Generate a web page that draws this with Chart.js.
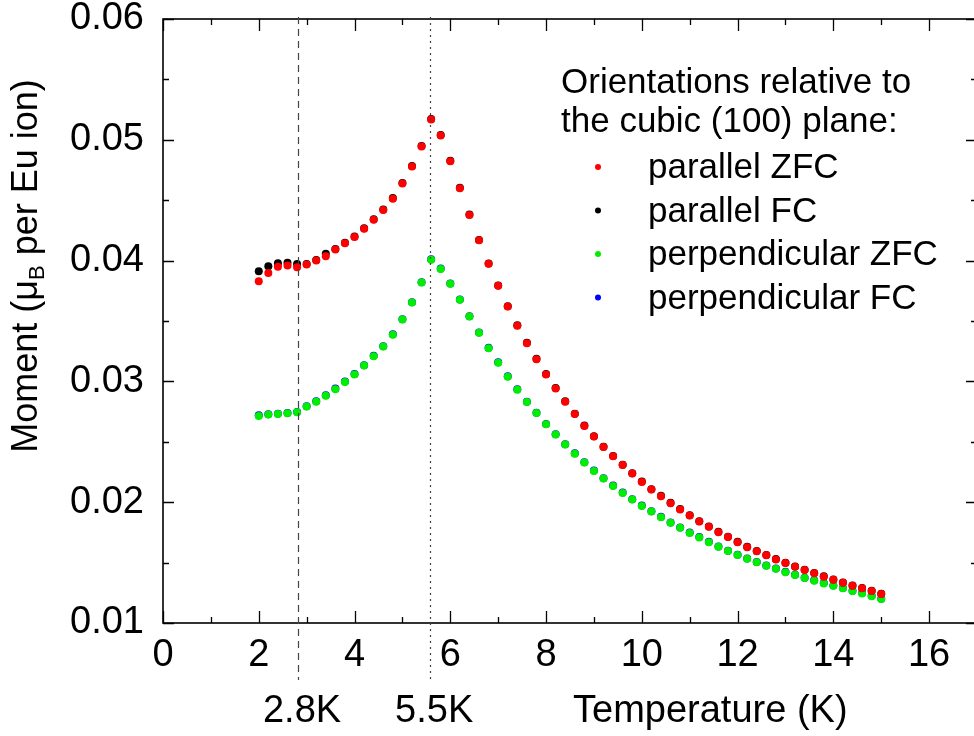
<!DOCTYPE html>
<html>
<head>
<meta charset="utf-8">
<script src="https://cdn.jsdelivr.net/npm/chart.js@4.4.1/dist/chart.umd.min.js"></script>
<style>
  html, body { margin: 0; padding: 0; background: #fff; overflow: hidden; }
  #wrap { width: 990px; height: 736px; }
</style>
</head>
<body>
<div id="wrap"><canvas id="chart" width="990" height="736"></canvas></div>
<script>
// Temperaturas medidas (K), paso de 0.2 K
var temperatures = [
  2.0, 2.2, 2.4, 2.6, 2.8, 3.0, 3.2, 3.4, 3.6, 3.8,
  4.0, 4.2, 4.4, 4.6, 4.8, 5.0, 5.2, 5.4, 5.6, 5.8,
  6.0, 6.2, 6.4, 6.6, 6.8, 7.0, 7.2, 7.4, 7.6, 7.8,
  8.0, 8.2, 8.4, 8.6, 8.8, 9.0, 9.2, 9.4, 9.6, 9.8,
  10.0, 10.2, 10.4, 10.6, 10.8, 11.0, 11.2, 11.4, 11.6, 11.8,
  12.0, 12.2, 12.4, 12.6, 12.8, 13.0, 13.2, 13.4, 13.6, 13.8,
  14.0, 14.2, 14.4, 14.6, 14.8, 15.0
];

// Momento (muB por ion Eu) para cada orientacion
var parallelZFC = [
  0.03829, 0.03898, 0.03950, 0.03959, 0.03945, 0.03967, 0.04000, 0.04036, 0.04091, 0.04143,
  0.04196, 0.04264, 0.04339, 0.04419, 0.04512, 0.04639, 0.04779, 0.04945, 0.05168, 0.05036,
  0.04822, 0.04598, 0.04378, 0.04168, 0.03973, 0.03791, 0.03620, 0.03460, 0.03316, 0.03184,
  0.03058, 0.02942, 0.02832, 0.02730, 0.02631, 0.02543, 0.02457, 0.02380, 0.02308, 0.02237,
  0.02168, 0.02105, 0.02050, 0.01992, 0.01940, 0.01890, 0.01840, 0.01796, 0.01752, 0.01711,
  0.01669, 0.01628, 0.01593, 0.01560, 0.01526, 0.01496, 0.01465, 0.01438, 0.01411, 0.01383,
  0.01358, 0.01333, 0.01308, 0.01287, 0.01264, 0.01240
];
var parallelFC = [
  0.03912, 0.03953, 0.03978, 0.03983, 0.03972, 0.03972, 0.04006, 0.04056, 0.04096, 0.04148,
  0.04200, 0.04268, 0.04342, 0.04422, 0.04518, 0.04643, 0.04783, 0.04948, 0.05172, 0.05040,
  0.04826, 0.04604, 0.04381, 0.04171, 0.03976, 0.03794, 0.03623, 0.03465, 0.03319, 0.03187,
  0.03061, 0.02945, 0.02835, 0.02733, 0.02634, 0.02546, 0.02460, 0.02383, 0.02311, 0.02240,
  0.02171, 0.02108, 0.02053, 0.01995, 0.01943, 0.01893, 0.01843, 0.01799, 0.01755, 0.01714,
  0.01672, 0.01631, 0.01596, 0.01563, 0.01529, 0.01499, 0.01468, 0.01441, 0.01414, 0.01386,
  0.01361, 0.01336, 0.01311, 0.01290, 0.01267, 0.01243
];
var perpendicularZFC = [
  0.02713, 0.02725, 0.02730, 0.02736, 0.02744, 0.02793, 0.02832, 0.02882, 0.02934, 0.02996,
  0.03058, 0.03131, 0.03209, 0.03289, 0.03386, 0.03512, 0.03653, 0.03818, 0.04008, 0.03931,
  0.03808, 0.03675, 0.03537, 0.03402, 0.03275, 0.03155, 0.03039, 0.02931, 0.02829, 0.02738,
  0.02645, 0.02560, 0.02477, 0.02402, 0.02328, 0.02259, 0.02196, 0.02135, 0.02077, 0.02022,
  0.01969, 0.01923, 0.01876, 0.01829, 0.01788, 0.01746, 0.01708, 0.01669, 0.01631, 0.01595,
  0.01562, 0.01531, 0.01502, 0.01474, 0.01449, 0.01421, 0.01397, 0.01372, 0.01350, 0.01328,
  0.01308, 0.01287, 0.01264, 0.01245, 0.01222, 0.01198
];
var perpendicularFC = [
  0.02720, 0.02729, 0.02733, 0.02739, 0.02746, 0.02795, 0.02835, 0.02885, 0.02942, 0.02999,
  0.03061, 0.03134, 0.03212, 0.03292, 0.03390, 0.03515, 0.03656, 0.03821, 0.04011, 0.03934,
  0.03811, 0.03678, 0.03540, 0.03405, 0.03278, 0.03158, 0.03042, 0.02934, 0.02832, 0.02741,
  0.02648, 0.02563, 0.02480, 0.02405, 0.02331, 0.02262, 0.02199, 0.02138, 0.02080, 0.02025,
  0.01972, 0.01926, 0.01879, 0.01832, 0.01791, 0.01749, 0.01711, 0.01672, 0.01634, 0.01598,
  0.01565, 0.01534, 0.01505, 0.01477, 0.01452, 0.01424, 0.01400, 0.01375, 0.01353, 0.01331,
  0.01311, 0.01290, 0.01267, 0.01248, 0.01225, 0.01201
];

var seriesNames = ['parallel ZFC', 'parallel FC', 'perpendicular ZFC', 'perpendicular FC'];
var seriesColors = ['#ff0000', '#000000', '#00ee00', '#0000ff'];

// Lineas verticales de transicion
var markerTemps = [2.82, 5.58];
var markerLabels = ['2.8K', '5.5K'];
var markerDash = [[7, 5], [2, 4]];

var legendTitle = ['Orientations relative to', 'the cubic (100) plane:'];
var xTitle = 'Temperature (K)';

var FONT = '"Liberation Sans", Arial, sans-serif';

function toPoints(values) {
  return temperatures.map(function (t, i) { return { x: t, y: values[i] }; });
}

var allSeries = [parallelZFC, parallelFC, perpendicularZFC, perpendicularFC];
var drawOrder = [1, 2, 3, 4];

var datasets = allSeries.map(function (values, i) {
  return {
    label: seriesNames[i],
    data: toPoints(values),
    backgroundColor: seriesColors[i],
    borderColor: seriesColors[i],
    pointRadius: 4,
    pointHoverRadius: 4,
    pointBorderWidth: 0,
    showLine: false,
    order: drawOrder[i]
  };
});

function isMajorY(v) {
  return Math.round(v * 1000) % 10 === 0;
}

// Marco con ticks hacia dentro en los cuatro lados
var framePlugin = {
  id: 'frame',
  afterDraw: function (chart) {
    var ctx = chart.ctx;
    var a = chart.chartArea;
    var x = chart.scales.x;
    var y = chart.scales.y;
    ctx.save();
    ctx.strokeStyle = '#000';
    ctx.lineWidth = 1.6;
    ctx.strokeRect(a.left, a.top, a.right - a.left, a.bottom - a.top);
    ctx.lineWidth = 1.3;
    ctx.beginPath();
    x.ticks.forEach(function (t) {
      var px = Math.round(x.getPixelForValue(t.value)) + 0.5;
      var len = t.value % 2 === 0 ? 12 : 6;
      ctx.moveTo(px, a.bottom); ctx.lineTo(px, a.bottom - len);
      ctx.moveTo(px, a.top); ctx.lineTo(px, a.top + len);
    });
    y.ticks.forEach(function (t) {
      var py = Math.round(y.getPixelForValue(t.value)) + 0.5;
      var len = isMajorY(t.value) ? 11 : 6;
      ctx.moveTo(a.left, py); ctx.lineTo(a.left + len, py);
      ctx.moveTo(a.right, py); ctx.lineTo(a.right - len, py);
    });
    ctx.stroke();

    // lineas de transicion y sus etiquetas
    ctx.lineWidth = 1.2;
    ctx.strokeStyle = '#444';
    markerTemps.forEach(function (t, i) {
      var px = Math.round(x.getPixelForValue(t)) + 0.5;
      ctx.setLineDash(markerDash[i]);
      ctx.beginPath();
      ctx.moveTo(px, a.top - 2);
      ctx.lineTo(px, 680);
      ctx.stroke();
    });
    ctx.setLineDash([]);
    ctx.fillStyle = '#000';
    ctx.font = '38px ' + FONT;
    ctx.textAlign = 'center';
    ctx.textBaseline = 'alphabetic';
    markerTemps.forEach(function (t, i) {
      ctx.fillText(markerLabels[i], x.getPixelForValue(t) + 4, 722);
    });
    ctx.textAlign = 'left';
    ctx.fillText(xTitle, 573, 722);

    // titulo del eje Y con subindice
    ctx.translate(37, 266);
    ctx.rotate(-Math.PI / 2);
    var big = '36px ' + FONT;
    var small = '22px ' + FONT;
    var parts = [['Moment (\u03bc', big, 0], ['B', small, 7], [' per Eu ion)', big, 0]];
    var total = 0;
    parts.forEach(function (p) { ctx.font = p[1]; total += ctx.measureText(p[0]).width; });
    var cx = -total / 2;
    parts.forEach(function (p) {
      ctx.font = p[1];
      ctx.fillText(p[0], cx, p[2]);
      cx += ctx.measureText(p[0]).width;
    });
    ctx.restore();

    // leyenda
    ctx.save();
    ctx.fillStyle = '#000';
    ctx.font = '35px ' + FONT;
    ctx.textAlign = 'left';
    ctx.textBaseline = 'alphabetic';
    ctx.fillText(legendTitle[0], 561, 93);
    ctx.fillText(legendTitle[1], 561, 132);
    chart.data.datasets.forEach(function (ds, i) {
      var by = 178 + i * 43.5;
      ctx.fillStyle = ds.backgroundColor;
      ctx.beginPath();
      ctx.arc(598, by - 11, 3, 0, Math.PI * 2);
      ctx.fill();
      ctx.fillStyle = '#000';
      ctx.fillText(ds.label, 648, by);
    });
    ctx.restore();
  }
};

new Chart(document.getElementById('chart').getContext('2d'), {
  type: 'scatter',
  data: { datasets: datasets },
  options: {
    responsive: false,
    animation: false,
    events: [],
    layout: { padding: { top: 19, right: 13, left: 0, bottom: 0 } },
    plugins: {
      legend: { display: false },
      tooltip: { enabled: false }
    },
    scales: {
      x: {
        type: 'linear',
        min: 0,
        max: 17,
        grid: { display: false, drawTicks: false },
        border: { display: false },
        ticks: {
          stepSize: 1,
          autoSkip: false,
          maxRotation: 0,
          padding: 10,
          color: '#000',
          font: { family: FONT, size: 38 },
          callback: function (v) { return v % 2 === 0 ? String(v) : ''; }
        },
        afterFit: function (s) {
          s.height = 113;
          s.paddingLeft = 0;
          s.paddingRight = 0;
        }
      },
      y: {
        type: 'linear',
        min: 0.01,
        max: 0.06,
        grid: { display: false, drawTicks: false },
        border: { display: false },
        ticks: {
          stepSize: 0.005,
          autoSkip: false,
          padding: 19,
          color: '#000',
          font: { family: FONT, size: 38 },
          callback: function (v) { return isMajorY(v) ? v.toFixed(2) : ''; }
        },
        afterFit: function (s) {
          s.width = 163;
          s.paddingTop = 0;
          s.paddingBottom = 0;
        }
      }
    }
  },
  plugins: [framePlugin]
});
</script>
</body>
</html>
